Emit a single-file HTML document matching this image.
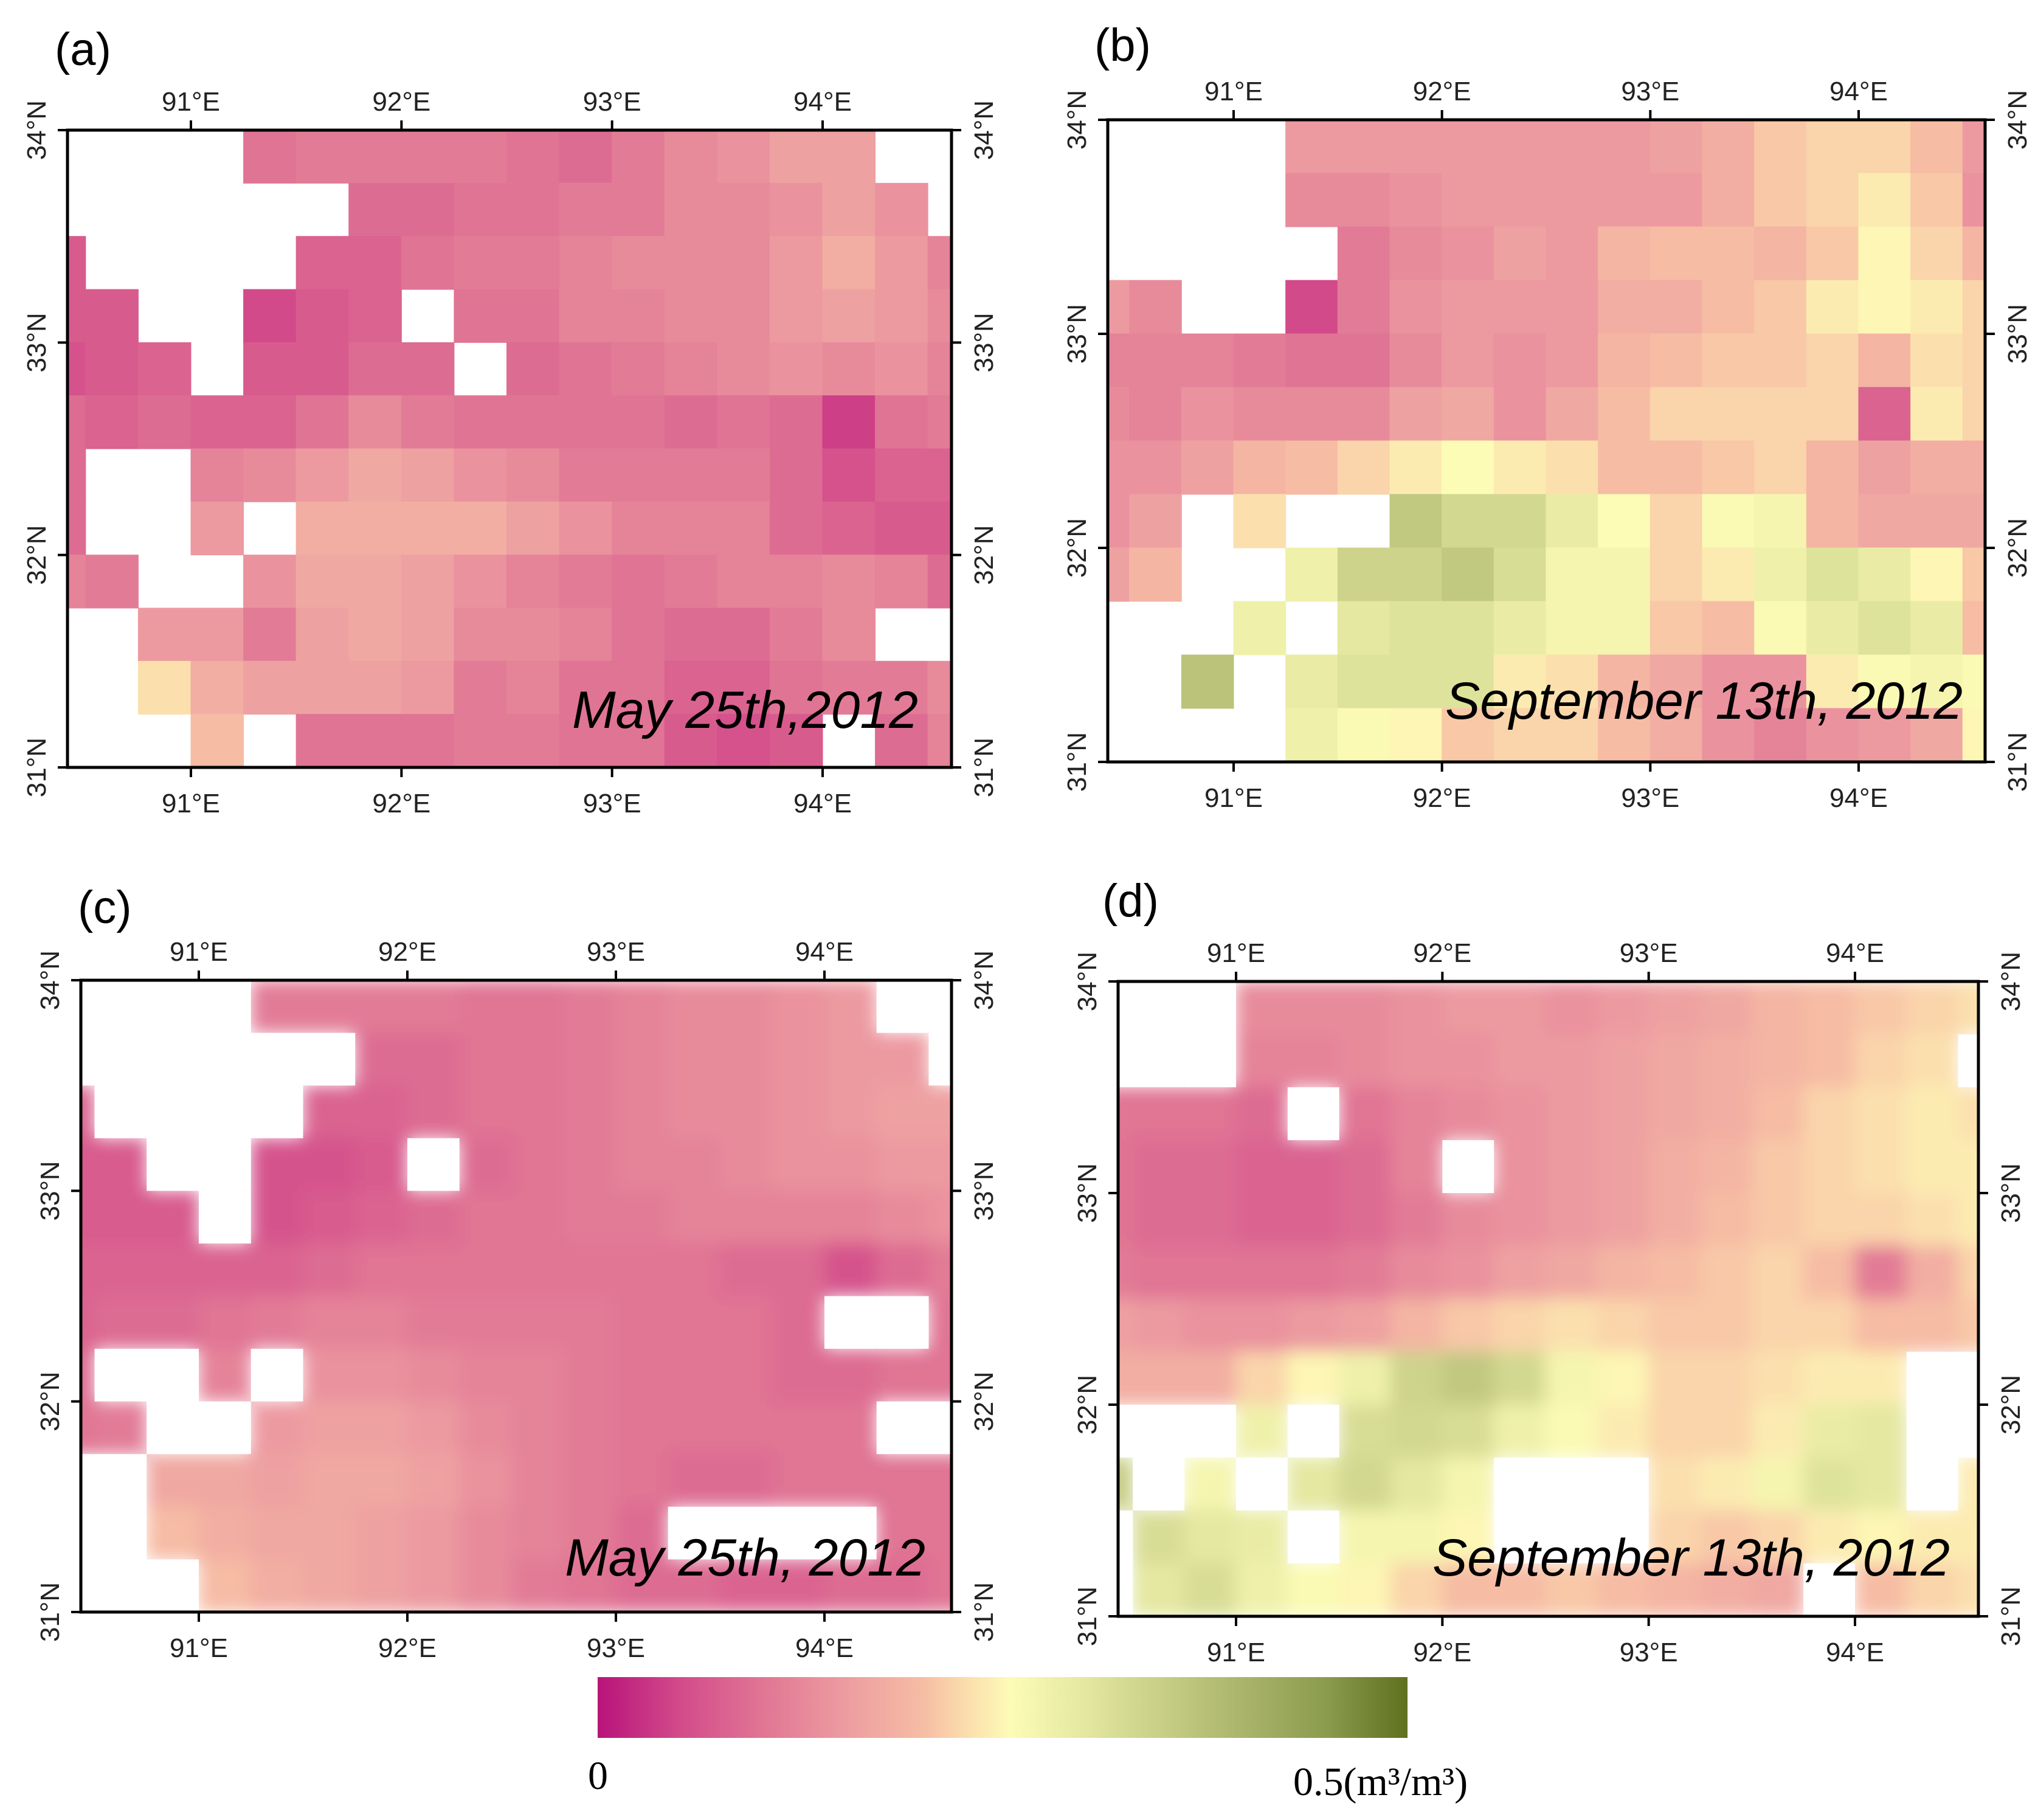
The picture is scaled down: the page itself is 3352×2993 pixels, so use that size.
<!DOCTYPE html>
<html><head><meta charset="utf-8">
<style>
html,body{margin:0;padding:0;background:#fff;}
svg{display:block;}
text{font-family:"Liberation Sans",sans-serif;}
</style></head>
<body>
<svg id="fig" width="3352" height="2993" viewBox="0 0 3352 2993" xmlns="http://www.w3.org/2000/svg">
<defs>
<filter id="soft" x="-5%" y="-5%" width="110%" height="110%"><feGaussianBlur stdDeviation="14"/></filter>
<linearGradient id="cbgrad" x1="0" x2="1" y1="0" y2="0"></linearGradient>
</defs>
</svg>
<script>
// ---- data (soil moisture, m3/m3; null = missing), rows from 34N southward, cols from 90.25E eastward (0.25 deg) ----
const lonTicks = [91, 92, 93, 94];
const latTicks = [34, 33, 32, 31];
const colorStops = [0, 0.05, 0.1, 0.15, 0.2, 0.225, 0.255, 0.3, 0.375, 0.45, 0.5];
const colorHex = ["#b8137a","#d24a8a","#e07494","#ec9aa0","#f6bca4","#fbdaac","#fdfcb6","#e4e8a0","#b8c078","#8b9b4e","#5f7020"];
const _ = null;
const gridA = [
[_,_,_,_,.10,.11,.11,.11,.11,.10,.09,.11,.13,.14,.16,.16,_,_],
[_,_,_,_,_,_,.09,.09,.10,.10,.11,.11,.13,.13,.14,.16,.14,_],
[.07,_,_,_,_,.08,.08,.10,.11,.11,.12,.13,.13,.13,.15,.18,.15,.12],
[.07,.07,_,_,.05,.07,.08,_,.10,.10,.12,.12,.13,.13,.15,.16,.15,.13],
[.06,.07,.08,_,.07,.07,.09,.09,_,.09,.10,.11,.12,.13,.14,.13,.14,.12],
[.09,.08,.09,.08,.08,.10,.13,.11,.10,.10,.10,.10,.09,.10,.09,.04,.10,.11],
[.09,_,_,.12,.13,.15,.17,.16,.14,.13,.11,.11,.11,.11,.09,.06,.08,.08],
[.09,_,_,.15,_,.18,.18,.18,.18,.16,.14,.12,.12,.12,.09,.08,.07,.07],
[.12,.11,_,_,.14,.17,.17,.16,.14,.12,.11,.10,.11,.12,.12,.13,.12,.09],
[_,_,.15,.15,.11,.16,.17,.16,.13,.13,.12,.10,.09,.09,.11,.13,_,_],
[_,_,.23,.18,.16,.16,.16,.15,.11,.12,.10,.10,.08,.08,.10,.11,.11,.13],
[_,_,_,.20,_,.10,.10,.10,.11,.11,.10,.10,.07,.06,.07,_,.09,.12]
];
const gridB = [
[_,_,_,_,.15,.15,.15,.15,.15,.15,.15,.16,.18,.21,.22,.22,.20,.15],
[_,_,_,_,.13,.13,.14,.15,.15,.15,.15,.15,.18,.21,.22,.24,.21,.14],
[_,_,_,_,_,.11,.13,.14,.16,.15,.19,.20,.20,.19,.21,.25,.22,.19],
[.15,.13,_,_,.05,.11,.14,.15,.15,.15,.18,.18,.20,.21,.24,.25,.24,.22],
[.12,.12,.12,.11,.10,.10,.13,.15,.14,.15,.19,.20,.21,.21,.22,.19,.23,.22],
[.13,.12,.14,.13,.13,.13,.16,.17,.14,.17,.20,.22,.22,.22,.22,.08,.24,.22],
[.14,.14,.16,.19,.20,.22,.24,.255,.24,.23,.20,.20,.21,.22,.19,.16,.18,.18],
[.14,.16,_,.23,_,_,.36,.33,.33,.29,.255,.22,.26,.27,.19,.17,.17,.17],
[.16,.19,_,_,.28,.34,.34,.36,.32,.27,.27,.22,.24,.28,.31,.29,.25,.21],
[_,_,_,.28,_,.30,.31,.31,.29,.27,.27,.21,.20,.26,.29,.31,.29,.20],
[_,_,.37,_,.29,.31,.31,.31,.24,.23,.19,.17,.14,.14,.24,.26,.27,.26],
[_,_,_,_,.28,.26,.25,.21,.22,.22,.20,.18,.14,.12,.14,.15,.17,.25]
];
const gridC = [
[_,_,_,_,.11,.11,.11,.11,.10,.10,.11,.12,.13,.13,.14,.15,_,_],
[_,_,_,_,_,_,.09,.09,.10,.10,.11,.12,.13,.13,.14,.15,.15,_],
[.08,_,_,_,_,.08,.08,.09,.10,.10,.11,.12,.13,.13,.14,.15,.16,.16],
[.07,.07,_,_,.06,.06,.07,_,.09,.10,.11,.12,.12,.13,.14,.14,.15,.15],
[.07,.07,.07,_,.06,.07,.08,.09,.10,.10,.11,.11,.12,.12,.12,.12,.13,.14],
[.08,.08,.08,.08,.08,.09,.10,.10,.10,.10,.10,.10,.10,.09,.09,.06,.09,.11],
[.08,.09,.09,.10,.11,.12,.12,.11,.11,.11,.11,.10,.10,.10,.09,_,_,.10],
[.09,_,_,.12,_,.14,.14,.13,.12,.12,.11,.10,.10,.10,.09,.09,.10,.10],
[.10,.11,_,_,.15,.16,.16,.15,.13,.12,.11,.10,.10,.10,.10,.10,_,_],
[_,_,.17,.17,.16,.17,.17,.16,.14,.12,.11,.10,.09,.09,.10,.10,.10,.10],
[_,_,.20,.18,.17,.17,.16,.15,.13,.12,.11,.09,_,_,_,_,.10,.10],
[_,_,_,.20,.18,.17,.16,.15,.13,.11,.10,.09,.09,.08,.08,.09,.09,.10]
];
const gridD = [
[_,_,_,.13,.13,.13,.14,.15,.15,.14,.15,.16,.17,.19,.20,.21,.22,.23],
[_,_,_,.12,.12,.13,.14,.14,.15,.15,.16,.17,.18,.19,.20,.22,.23,_],
[.10,.10,.10,.09,_,.10,.12,.13,.14,.15,.16,.17,.18,.20,.22,.23,.24,.23],
[.10,.09,.09,.08,.08,.09,.12,_,.14,.15,.16,.18,.19,.21,.22,.23,.24,.24],
[.10,.09,.09,.08,.08,.09,.11,.13,.14,.15,.16,.18,.20,.21,.22,.22,.23,.24],
[.11,.10,.10,.10,.10,.11,.13,.14,.16,.17,.19,.20,.21,.22,.20,.11,.18,.22],
[.16,.15,.14,.14,.15,.16,.19,.21,.22,.23,.22,.21,.21,.22,.22,.20,.20,.21],
[.18,.18,.18,.22,.25,.28,.34,.36,.33,.27,.25,.22,.22,.23,.24,.24,_,_],
[_,_,_,.28,_,.32,.33,.32,.28,.26,.24,.22,.22,.24,.29,.30,_,_],
[.35,_,.27,_,.30,.33,.30,.27,_,_,_,.23,.24,.27,.31,.30,_,.24],
[_,.32,.30,.29,_,.27,.27,.25,_,_,_,.22,.21,.22,.24,.25,.24,.24],
[_,.30,.32,.28,.26,.25,.22,.20,.20,.21,.20,.19,.18,.17,_,.20,.22,.23]
];
const dateLabels = ["May 25th,2012", "September 13th, 2012", "May 25th, 2012", "September 13th, 2012"];
const panelLetters = ["(a)", "(b)", "(c)", "(d)"];
const cbTicks = [0, 0.5];

// ---- layout ----
const NS = "http://www.w3.org/2000/svg";
const svg = document.getElementById('fig');
function mk(tag, attrs, parent){ const e=document.createElementNS(NS,tag); for(const k in attrs) e.setAttribute(k,attrs[k]); (parent||svg).appendChild(e); return e; }
function hexToRgb(h){ return [parseInt(h.substr(1,2),16),parseInt(h.substr(3,2),16),parseInt(h.substr(5,2),16)]; }
function cmap(v){
  v=Math.max(0,Math.min(0.5,v));
  for(let i=0;i<colorStops.length-1;i++){
    if(v<=colorStops[i+1]){
      const t=(v-colorStops[i])/(colorStops[i+1]-colorStops[i]);
      const a=hexToRgb(colorHex[i]), b=hexToRgb(colorHex[i+1]);
      return `rgb(${Math.round(a[0]+(b[0]-a[0])*t)},${Math.round(a[1]+(b[1]-a[1])*t)},${Math.round(a[2]+(b[2]-a[2])*t)})`;
    }
  }
  return colorHex[colorHex.length-1];
}
const panels = [
 {id:'a', grid:gridA, L:111, R:1565, T:214, B:1262, x91:314, x94:1353, smooth:false, letter:[90,107], date:[1510,1197]},
 {id:'b', grid:gridB, L:1822, R:3265, T:197, B:1253, x91:2029, x94:3057, smooth:false, letter:[1800,100], date:[3228,1182]},
 {id:'c', grid:gridC, L:133, R:1565, T:1612, B:2651, x91:327, x94:1356, smooth:true, letter:[128,1518], date:[1522,2591]},
 {id:'d', grid:gridD, L:1839, R:3254, T:1614, B:2658, x91:2033, x94:3051, smooth:true, letter:[1813,1507], date:[3207,2591]}
];
panels.forEach((p,pi)=>{
  const xs = lon => p.x91 + (lon-91)*(p.x94-p.x91)/3;
  const ys = lat => p.T + (34-lat)*(p.B-p.T)/3;
  const g = mk('g',{});
  
  
  const clip = mk('clipPath',{id:'clip'+p.id}, svg.querySelector('defs'));
  mk('rect',{x:p.L,y:p.T,width:p.R-p.L,height:p.B-p.T},clip);
  const cg = mk('g',{'clip-path':'url(#clip'+p.id+')'},g);
  const layer = mk('g', p.smooth?{filter:'url(#soft)'}:{}, cg);
  p.grid.forEach((row,i)=>{
    row.forEach((v,j)=>{
      if(v===null) return;
      const lon0=90.25+0.25*j, lat0=34-0.25*i;
      const x0=xs(lon0), x1=xs(lon0+0.25), y0=ys(lat0), y1=ys(lat0-0.25);
      const r = mk('rect',{x:x0-0.5,y:y0-0.5,width:x1-x0+1,height:y1-y0+1,fill:cmap(v)},layer);
      
      
    });
  });
  if(p.smooth){
    p.grid.forEach((row,i)=>{ row.forEach((v,j)=>{
      if(v!==null) return;
      const lon0=90.25+0.25*j, lat0=34-0.25*i;
      mk('rect',{x:xs(lon0),y:ys(lat0),width:xs(lon0+0.25)-xs(lon0),height:ys(lat0-0.25)-ys(lat0),fill:'#fff'},cg);
    });});
  }
  const frame = mk('rect',{x:p.L,y:p.T,width:p.R-p.L,height:p.B-p.T,fill:'none',stroke:'#000','stroke-width':5},g);
  
  
  lonTicks.forEach(lon=>{
    const x=xs(lon);
    mk('line',{x1:x,y1:p.T,x2:x,y2:p.T-16,stroke:'#000','stroke-width':4},g);
    mk('line',{x1:x,y1:p.B,x2:x,y2:p.B+16,stroke:'#000','stroke-width':4},g);
    const t1=mk('text',{x:x,y:p.T-32,'font-size':44,'text-anchor':'middle',fill:'#222'},g); t1.textContent=lon+'°E';
    
    
    const t2=mk('text',{x:x,y:p.B+74,'font-size':44,'text-anchor':'middle',fill:'#222'},g); t2.textContent=lon+'°E';
    
    
  });
  latTicks.forEach(lat=>{
    const y=ys(lat);
    mk('line',{x1:p.L,y1:y,x2:p.L-16,y2:y,stroke:'#000','stroke-width':4},g);
    mk('line',{x1:p.R,y1:y,x2:p.R+16,y2:y,stroke:'#000','stroke-width':4},g);
    [[p.L-36],[p.R+68]].forEach(([x],k)=>{
      const t=mk('text',{x:x,y:y,'font-size':44,'text-anchor':'middle',fill:'#222',transform:`rotate(-90 ${x} ${y})`},g);
      t.textContent=lat+'°N';
      
      
    });
  });
  const lt=mk('text',{x:p.letter[0],y:p.letter[1],'font-size':76,fill:'#000'},g); lt.textContent=panelLetters[pi];
  
  
  const dt=mk('text',{x:p.date[0],y:p.date[1],'font-size':86,'font-style':'italic','text-anchor':'end',fill:'#000'},g); dt.textContent=dateLabels[pi];
  
  
});

// ---- colorbar ----
const grad=document.getElementById('cbgrad');
colorStops.forEach((s,i)=>{ mk('stop',{offset:(s/0.5*100)+'%','stop-color':colorHex[i]},grad); });
const cbL=983, cbR=2315;
const cb=mk('rect',{x:cbL,y:2758,width:cbR-cbL,height:100,fill:'url(#cbgrad)'});


const cbx = v => cbL + v/0.5*(cbR-cbL);
const c0=mk('text',{x:cbx(cbTicks[0])-16,y:2942,'font-size':66,style:'font-family:"Liberation Serif",serif',fill:'#000'});
c0.textContent=String(cbTicks[0]);


const c1=mk('text',{x:2127,y:2952,'font-size':66,style:'font-family:"Liberation Serif",serif',fill:'#000'});
c1.textContent=cbTicks[1]+'(m³/m³)';


</script>
</body></html>
